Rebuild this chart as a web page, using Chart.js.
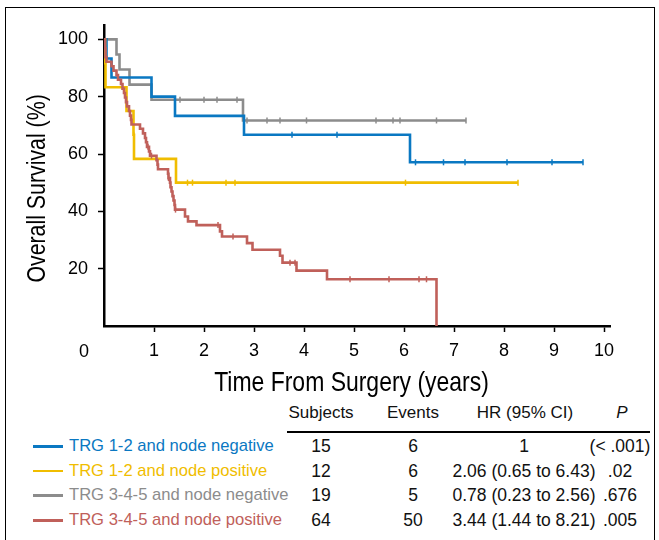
<!DOCTYPE html>
<html>
<head>
<meta charset="utf-8">
<script src="https://cdn.jsdelivr.net/npm/chart.js@4/dist/chart.umd.min.js"></script>
<style>
  body { margin: 0; background: #fff; font-family: 'Liberation Sans', Arial, sans-serif; }
  #page { position: relative; width: 659px; height: 540px; overflow: hidden; }
  #frame { position: absolute; left: 5px; top: 7px; width: 648px; height: 560px; border: 1.5px solid #000; }
  #plot { position: absolute; left: 0; top: 0; width: 659px; height: 400px; }
  .cell { position: absolute; white-space: nowrap; line-height: 24px; color: #111; transform: translateX(-50%); }
  .num { font-size: 17.5px; }
  .head { font-size: 17px; }
  .name { position: absolute; left: 69px; white-space: nowrap; line-height: 24px; font-size: 16.6px; }
  .swatch { position: absolute; left: 33px; width: 30px; height: 2.5px; }
  #rule { position: absolute; left: 287px; top: 431px; width: 363px; height: 2px; background: #000; }
</style>
</head>
<body>
<div id="page">
  <div id="frame"></div>
  <div id="plot"><canvas id="km"></canvas></div>
  <div id="rule"></div>
  <div id="table"></div>
</div>
<script>
// groups and table values
var groups = ['TRG 1-2 and node negative', 'TRG 1-2 and node positive', 'TRG 3-4-5 and node negative', 'TRG 3-4-5 and node positive'];
var colors = ['#0a78c2', '#f0bd00', '#8c8c8c', '#c0605a'];
var subjects = ['15', '12', '19', '64'];
var events = ['6', '6', '5', '50'];
var hrCI = ['1', '2.06 (0.65 to 6.43)', '0.78 (0.23 to 2.56)', '3.44 (1.44 to 8.21)'];
var pValues = ['(< .001)', '.02', '.676', '.005'];

// survival steps: time of drop (years) and survival after the drop (%)
var blueT = [0, 0.05, 0.15, 0.95, 1.42, 2.80, 6.12, 9.58];
var blueS = [100, 93.3, 86.7, 80.0, 73.3, 66.7, 57.1, 57.1];
var blueCens = [3.76, 4.66, 6.23, 6.79, 7.22, 8.06, 8.96, 9.58];

var yellowT = [0, 0.02, 0.03, 0.45, 0.59, 0.60, 1.44, 8.28];
var yellowS = [100, 91.7, 83.3, 75.0, 66.7, 58.3, 50.0, 50.0];
var yellowCens = [0.595, 1.67, 1.77, 2.44, 2.62, 6.03, 8.28];

var grayT = [0, 0.25, 0.31, 0.51, 0.95, 2.78, 7.24];
var grayS = [100, 94.7, 89.5, 84.2, 78.9, 71.7, 71.7];
var grayCens = [1.52, 2.0, 2.26, 2.66, 2.86, 3.26, 3.52, 4.05, 5.44, 5.78, 5.92, 6.65, 7.24];

var redT = [0, 0.02, 0.03, 0.05, 0.15, 0.19, 0.25, 0.28, 0.34, 0.37, 0.40, 0.42, 0.44, 0.46, 0.50, 0.52, 0.54, 0.55,
            0.72, 0.78, 0.82, 0.84, 0.86, 0.90, 0.92, 1.05, 1.07, 1.08, 1.28, 1.29, 1.32, 1.33, 1.35, 1.37, 1.39, 1.41, 1.42,
            1.62, 1.68, 1.85, 2.32, 2.36, 2.86, 2.97, 3.52, 3.57, 3.85, 4.46, 6.65];
var redS = [100, 96.9, 93.8, 92.2, 90.6, 89.1, 87.5, 85.9, 84.4, 82.8, 81.3, 79.7, 78.1, 76.6, 75.0, 73.4, 71.9, 70.3,
            68.8, 67.2, 65.6, 64.1, 62.5, 60.9, 59.4, 57.8, 56.3, 54.7, 53.1, 51.6, 50.0, 48.4, 46.9, 45.3, 43.8, 42.2, 40.6,
            38.2, 36.5, 35.2, 33.0, 31.2, 28.9, 26.6, 24.5, 22.1, 19.3, 16.3, 0];
var redCens = [0.88, 0.95, 1.29, 1.43, 2.28, 2.58, 3.72, 3.82, 4.92, 5.70, 6.30, 6.45];

var xTicks = [1, 2, 3, 4, 5, 6, 7, 8, 9, 10];
var xTitle = 'Time From Surgery (years)';
var yTitle = 'Overall Survival (%)';

function steps(ts, ss) {
    return ts.map(function (t, i) { return { x: t, y: ss[i] }; });
}
function survivalAt(ts, ss, t) {
    var s = ss[0];
    for (var i = 0; i < ts.length; i++) { if (ts[i] <= t) s = ss[i]; }
    return s;
}
function censors(cs, ts, ss) {
    return cs.map(function (t) { return { x: t, y: survivalAt(ts, ss, t) }; });
}

var curves = [[blueT, blueS, blueCens], [yellowT, yellowS, yellowCens], [grayT, grayS, grayCens], [redT, redS, redCens]];
var drawOrder = [2, 1, 3, 0];
var datasets = [];
curves.forEach(function (c, i) {
    datasets.push({
        label: groups[i],
        data: steps(c[0], c[1]),
        stepped: 'before',
        borderColor: colors[i],
        borderWidth: 2.6,
        pointRadius: 0,
        fill: false,
        order: drawOrder[i]
    });
    datasets.push({
        label: groups[i] + ' censored',
        data: censors(c[2], c[0], c[1]),
        showLine: false,
        pointStyle: 'line',
        rotation: 90,
        pointRadius: 3,
        borderWidth: 1.5,
        borderColor: colors[i],
        order: drawOrder[i]
    });
});

// axis titles in a narrow face, plus the "0" at the origin
var axisText = {
    id: 'axisText',
    afterDraw: function (chart) {
        var c = chart.ctx;
        var xs = chart.scales.x, ys = chart.scales.y;
        c.save();
        c.fillStyle = '#000';
        c.textAlign = 'center';
        c.textBaseline = 'middle';
        c.font = "18px 'Liberation Sans'";
        c.fillText('0', xs.getPixelForValue(0) - 20, 352);

        c.save();
        c.translate(xs.getPixelForValue(4.95), 383);
        c.scale(0.82, 1);
        c.font = "28px 'Liberation Sans'";
        c.fillText(xTitle, 0, 0);
        c.restore();

        c.save();
        c.translate(38, ys.getPixelForValue(48));
        c.rotate(-Math.PI / 2);
        c.scale(0.82, 1);
        c.font = "26px 'Liberation Sans'";
        c.fillText(yTitle, 0, 0);
        c.restore();
        c.restore();
    }
};

var ctx = document.getElementById('km').getContext('2d');
var myChart = new Chart(ctx, {
    type: 'line',
    data: { datasets: datasets },
    plugins: [axisText],
    options: {
        responsive: true,
        maintainAspectRatio: false,
        animation: false,
        layout: { padding: { left: 0, top: 25, right: 49, bottom: 0 } },
        plugins: { legend: { display: false }, tooltip: { enabled: false } },
        scales: {
            x: {
                type: 'linear',
                min: 0,
                max: 10.12,
                afterFit: function (s) { s.height = 74; },
                afterBuildTicks: function (s) { s.ticks = xTicks.map(function (v) { return { value: v }; }); },
                ticks: { color: '#000', padding: 8, font: { family: 'Liberation Sans', size: 18 } },
                grid: { drawOnChartArea: false, drawTicks: true, tickLength: 6, tickColor: '#000', tickWidth: 1.5 },
                border: { color: '#000', width: 2.5 }
            },
            y: {
                min: 0,
                max: 105,
                afterFit: function (s) { s.width = 104; },
                ticks: {
                    stepSize: 20,
                    includeBounds: false,
                    color: '#000',
                    padding: 10,
                    font: { family: 'Liberation Sans', size: 18 },
                    callback: function (v) { return v === 0 ? '' : v; }
                },
                grid: {
                    drawOnChartArea: false, drawTicks: true, tickLength: 6, tickWidth: 1.5,
                    tickColor: function (c) { return c.tick && c.tick.value === 0 ? 'rgba(0,0,0,0)' : '#000'; }
                },
                border: { color: '#000', width: 2.5 }
            }
        }
    }
});

// legend and table
var table = document.getElementById('table');
var html = '';
var headCols = [321, 413, 525, 622];
var cols = [321, 413, 524, 620];
var heads = ['Subjects', 'Events', 'HR (95% CI)', '<i>P</i>'];
heads.forEach(function (h, j) {
    html += '<div class="cell head" style="left:' + headCols[j] + 'px;top:401px">' + h + '</div>';
});
groups.forEach(function (g, i) {
    var top = 434 + i * 24.7;
    html += '<div class="swatch" style="top:' + (top + 11) + 'px;background:' + colors[i] + '"></div>';
    html += '<div class="name" style="top:' + top + 'px;color:' + colors[i] + '">' + g + '</div>';
    [subjects[i], events[i], hrCI[i], pValues[i].replace('<', '&lt;')].forEach(function (v, j) {
        html += '<div class="cell num" style="left:' + cols[j] + 'px;top:' + top + 'px">' + v + '</div>';
    });
});
table.innerHTML = html;
</script>
</body>
</html>
